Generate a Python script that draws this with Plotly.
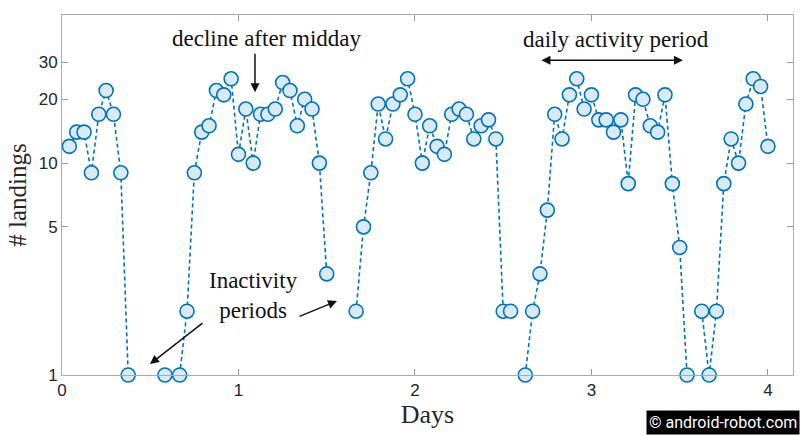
import plotly.graph_objects as go
import math

# hour index since start (hourly bins) and landing counts per hour
hours = list(range(1, 97))
landings = [12, 14, 14, 9, 17, 22, 17, 9, 1, 0, 0, 0, 0, 1, 0, 1,
            2, 9, 14, 15, 22, 21, 25, 11, 18, 10, 17, 17, 18, 24, 22, 15,
            20, 18, 10, 3, 0, 0, 0, 2, 5, 9, 19, 13, 19, 21, 25, 17,
            10, 15, 12, 11, 17, 18, 17, 13, 15, 16, 13, 2, 2, 0, 1, 2,
            3, 6, 17, 13, 21, 25, 18, 21, 16, 16, 14, 16, 8, 21, 20, 15,
            14, 21, 8, 4, 1, 0, 2, 1, 2, 8, 13, 10, 19, 25, 23, 12]

x_ticks = [0, 1, 2, 3, 4]
y_ticks = [1, 5, 10, 20, 30]

days = [h / 24 for h in hours]
yvals = [v if v > 0 else None for v in landings]

BLUE = "#0072BD"
FILL = "#d8eaf6"
SERIF = "Liberation Serif, DejaVu Serif, serif"
SANS = "Liberation Sans, Arial, sans-serif"

fig = go.Figure()
fig.add_trace(go.Scatter(
    x=days, y=yvals, mode="lines+markers", connectgaps=False, cliponaxis=False,
    line=dict(color=BLUE, width=1.6, dash="4px,3px"),
    marker=dict(symbol="circle", size=14, color=FILL,
                line=dict(color=BLUE, width=1.6)),
    showlegend=False, hoverinfo="skip"))

def px2x(px):
    return (px - 62) / 176.5

def py2ly(py):
    return (375 - py) / 212

ann = []
# text annotations
ann.append(dict(x=px2x(267), y=py2ly(38), text="decline after midday", showarrow=False,
                font=dict(family=SERIF, size=23, color="#111"), xanchor="center", yanchor="middle"))
ann.append(dict(x=px2x(616), y=py2ly(39), text="daily activity period", showarrow=False,
                font=dict(family=SERIF, size=23, color="#111"), xanchor="center", yanchor="middle"))
ann.append(dict(x=px2x(254), y=py2ly(295), text="Inactivity<br>periods", showarrow=False,
                font=dict(family=SERIF, size=23, color="#111"), xanchor="center", yanchor="middle"))
# arrows
arrow_style = dict(text="", showarrow=True, arrowhead=2, arrowsize=1.2, arrowwidth=1.5,
                   arrowcolor="#111", axref="pixel", ayref="pixel")
ann.append(dict(x=px2x(255), y=py2ly(92), ax=0, ay=-40, **arrow_style))
ann.append(dict(x=px2x(683), y=py2ly(60), ax=-143, ay=0, arrowside="end+start", **arrow_style))
ann.append(dict(x=px2x(150), y=py2ly(364), ax=54, ay=-42, **arrow_style))
ann.append(dict(x=px2x(337), y=py2ly(301), ax=-39, ay=16, **arrow_style))
# watermark
ann.append(dict(xref="paper", yref="paper", x=1.0096, y=-0.1667, xanchor="right", yanchor="bottom",
                text="© android-robot.com", showarrow=False, bgcolor="#000000",
                font=dict(family="Liberation Sans Narrow, Roboto, sans-serif", size=16, color="#ffffff"),
                borderpad=2))

fig.update_layout(
    width=800, height=435,
    margin=dict(l=62, r=7, t=15, b=60),
    paper_bgcolor="white", plot_bgcolor="white",
    annotations=ann,
    xaxis=dict(range=[0, 4.142], tickvals=x_ticks, ticktext=[str(t) for t in x_ticks],
               ticks="inside", ticklen=6, tickcolor="#999", showgrid=False, zeroline=False,
               showline=True, linecolor="#aaa", linewidth=1, mirror="ticks",
               tickfont=dict(family=SANS, size=17, color="#262626"),
               title=dict(text="Days", font=dict(family=SERIF, size=26, color="#262626"), standoff=4)),
    yaxis=dict(type="log", range=[0, math.log10(50)],
               tickvals=y_ticks, ticktext=[str(t) for t in y_ticks],
               ticks="inside", ticklen=6, tickcolor="#999", showgrid=False, zeroline=False,
               showline=True, linecolor="#aaa", linewidth=1, mirror="ticks",
               tickfont=dict(family=SANS, size=17, color="#262626"),
               title=dict(text="# landings", font=dict(family=SERIF, size=25, color="#262626"), standoff=4)),
)

fig.write_html("out.html", config={"displayModeBar": False},
               post_script="document.body.style.margin='0';document.body.style.padding='0';")
